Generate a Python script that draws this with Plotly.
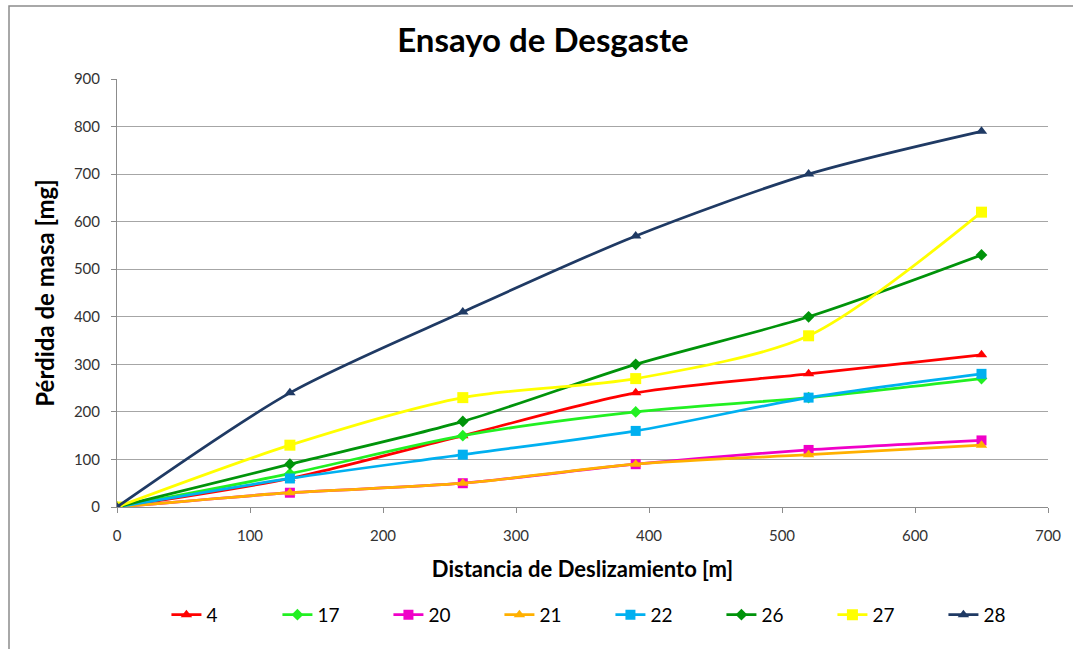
import plotly.graph_objects as go

distancia = [0, 130, 260, 390, 520, 650]
s4 = [0, 60, 150, 240, 280, 320]
s17 = [0, 70, 150, 200, 230, 270]
s20 = [0, 30, 50, 90, 120, 140]
s21 = [0, 30, 50, 90, 110, 130]
s22 = [0, 60, 110, 160, 230, 280]
s26 = [0, 90, 180, 300, 400, 530]
s27 = [0, 130, 230, 270, 360, 620]
s28 = [0, 240, 410, 570, 700, 790]

names = ["4", "17", "20", "21", "22", "26", "27", "28"]
values = [s4, s17, s20, s21, s22, s26, s27, s28]
colors = ["#FF0000", "#22F022", "#F000C8", "#FFB000", "#00B0F0", "#00930A", "#FFFF00", "#1F3A64"]
symbols = ["triangle-up", "diamond", "square", "triangle-up", "square", "diamond", "square", "triangle-up"]
sizes = [10, 9, 10, 10, 10, 9, 11, 10]

FONT = "Lato"

fig = go.Figure()
for n, v, c, s, sz in zip(names, values, colors, symbols, sizes):
    fig.add_trace(go.Scatter(
        x=distancia, y=v, name=n, mode="lines+markers",
        line=dict(color=c, width=2.75, shape="spline", smoothing=0.8),
        marker=dict(color=c, symbol=s, size=sz, line=dict(width=0)),
    ))

fig.update_layout(
    width=1073, height=649,
    margin=dict(l=117, r=25, t=79, b=142),
    paper_bgcolor="white", plot_bgcolor="white",
    font=dict(family=FONT, color="#333333", size=15),
    title=dict(text="<b>Ensayo de Desgaste</b>", x=0.506, xanchor="center",
               y=1 - 40 / 649, yanchor="middle",
               font=dict(family=FONT, size=33, color="#000000")),
    xaxis=dict(range=[0, 700], dtick=100, showgrid=False,
               showline=True, linecolor="#8c8c8c", linewidth=1,
               ticks="outside", ticklen=5, tickcolor="#8c8c8c",
               ticklabelstandoff=10,
               tickfont=dict(size=15, color="#333333"),
               zeroline=False,
               title=dict(text="<b>Distancia de Deslizamiento [m]</b>",
                          font=dict(size=22, color="#000000"), standoff=18)),
    yaxis=dict(range=[0, 900], dtick=100, showgrid=True, gridcolor="#a6a6a6",
               gridwidth=1, showline=True, linecolor="#8c8c8c", linewidth=1,
               ticks="outside", ticklen=5, tickcolor="#8c8c8c",
               ticklabelstandoff=8,
               tickfont=dict(size=15, color="#333333"),
               zeroline=False,
               title=dict(text="<b>Pérdida de masa [mg]</b>",
                          font=dict(size=24, color="#000000"), standoff=12)),
    legend=dict(orientation="h", x=0.53, xanchor="center", y=-0.252, yanchor="middle",
                font=dict(size=19, color="#000000"), itemwidth=30,
                entrywidth=66, entrywidthmode="pixels", bgcolor="rgba(0,0,0,0)"),
    shapes=[dict(type="rect", xref="paper", yref="paper",
                 x0=(9 - 117) / 931, x1=1.2, y0=-0.5, y1=(507 - 6) / 428,
                 line=dict(color="#8c8c8c", width=1.5), layer="below")],
)

fig.write_html("out.html", config={"displayModeBar": False},
               post_script="document.body.style.margin='0';document.body.style.overflow='hidden';")
